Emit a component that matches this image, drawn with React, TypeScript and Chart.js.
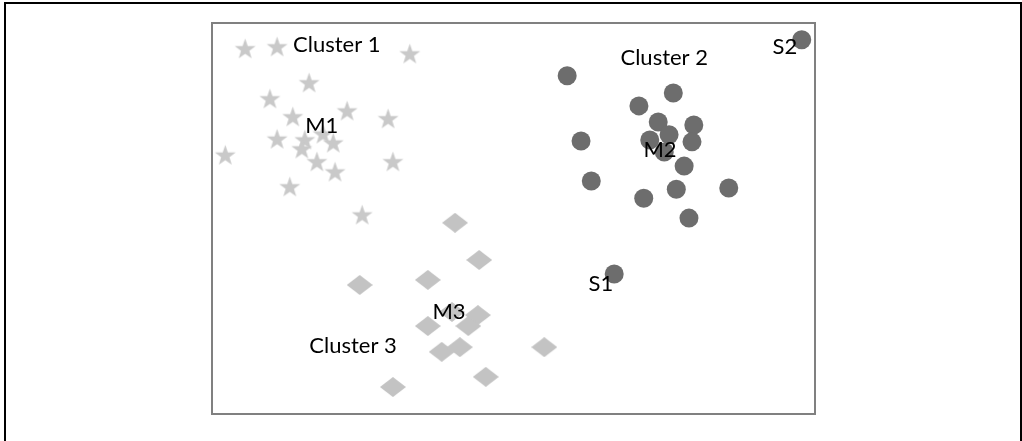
import React, { useEffect, useRef } from "react";
import { Chart, registerables } from "chart.js";

Chart.register(...registerables);

// Cluster 1 (stars)
const cluster1X = [5.5, 10.8, 32.8, 16.1, 9.6, 13.4, 22.4, 29.2, 10.8, 2.2, 15.4, 14.9, 20.1, 18.4, 17.4, 20.4, 30.0, 12.9, 24.9];
const cluster1Y = [93.4, 93.9, 92.1, 84.7, 80.6, 76.0, 77.5, 75.5, 70.3, 66.2, 70.1, 67.8, 69.3, 71.6, 64.5, 61.9, 64.5, 58.1, 50.9];

// Cluster 2 (circles), incl. S2 (first) and S1 (last)
const cluster2X = [97.8, 58.9, 76.5, 70.8, 74.0, 79.9, 75.8, 61.2, 72.6, 79.6, 75.0, 78.3, 62.9, 77.0, 85.7, 71.6, 79.1, 66.7];
const cluster2Y = [95.7, 86.5, 82.1, 78.8, 74.7, 73.9, 71.4, 69.8, 70.1, 69.6, 67.0, 63.4, 59.6, 57.5, 57.8, 55.2, 50.1, 35.8];

// Cluster 3 (diamonds)
const cluster3X = [40.3, 44.3, 35.8, 24.5, 44.1, 42.5, 35.8, 38.1, 41.1, 55.1, 45.4, 30.0, 39.8];
const cluster3Y = [48.9, 39.4, 34.3, 33.0, 25.3, 22.5, 22.5, 15.9, 17.1, 17.1, 9.5, 6.9, 26.1];

// Text annotations
const labelTexts = ["Cluster 1", "Cluster 2", "Cluster 3", "M1", "M2", "M3", "S1", "S2"];
const labelX = [20.7, 75.0, 23.4, 18.2, 74.3, 39.3, 64.5, 95.0];
const labelY = [94.4, 91.1, 17.4, 73.7, 67.5, 26.1, 33.3, 93.9];

function makeStar(color: string) {
  const c = document.createElement("canvas");
  c.width = 23;
  c.height = 23;
  const ctx = c.getContext("2d")!;
  const cx = 11.5, cy = 12.2, R = 11, r = 4.4;
  ctx.beginPath();
  for (let i = 0; i < 10; i++) {
    const a = -Math.PI / 2 + (i * Math.PI) / 5;
    const rad = i % 2 === 0 ? R : r;
    const px = cx + rad * Math.cos(a);
    const py = cy + rad * Math.sin(a);
    if (i === 0) ctx.moveTo(px, py);
    else ctx.lineTo(px, py);
  }
  ctx.closePath();
  ctx.fillStyle = color;
  ctx.fill();
  return c;
}

function makeDiamond(color: string) {
  const c = document.createElement("canvas");
  c.width = 26;
  c.height = 20;
  const ctx = c.getContext("2d")!;
  ctx.beginPath();
  ctx.moveTo(13, 0);
  ctx.lineTo(26, 10);
  ctx.lineTo(13, 20);
  ctx.lineTo(0, 10);
  ctx.closePath();
  ctx.fillStyle = color;
  ctx.fill();
  return c;
}

export default function App() {
  const ref = useRef<HTMLCanvasElement>(null);

  useEffect(() => {
    document.body.style.margin = "0";
    const canvas = ref.current!;
    const star = makeStar("#c9c9c9");
    const diamond = makeDiamond("#c3c3c3");

    const toPts = (xs: number[], ys: number[]) => xs.map((x, i) => ({ x, y: ys[i] }));

    const overlay = {
      id: "overlay",
      beforeDatasetsDraw(chart: any) {
        const { ctx, chartArea } = chart;
        ctx.save();
        ctx.strokeStyle = "#808080";
        ctx.lineWidth = 2;
        ctx.strokeRect(chartArea.left, chartArea.top, chartArea.right - chartArea.left, chartArea.bottom - chartArea.top);
        ctx.restore();
      },
      afterDatasetsDraw(chart: any) {
        const { ctx, scales } = chart;
        ctx.save();
        ctx.font = "22px Lato, 'Open Sans', sans-serif";
        ctx.fillStyle = "#000000";
        ctx.textAlign = "center";
        ctx.textBaseline = "middle";
        labelTexts.forEach((t, i) => {
          ctx.fillText(t, scales.x.getPixelForValue(labelX[i]), scales.y.getPixelForValue(labelY[i]));
        });
        ctx.restore();
      },
    };

    const chart = new Chart(canvas, {
      type: "scatter",
      data: {
        datasets: [
          {
            label: "Cluster 1",
            data: toPts(cluster1X, cluster1Y),
            pointStyle: star as any,
            pointRadius: 11,
          },
          {
            label: "Cluster 3",
            data: toPts(cluster3X, cluster3Y),
            pointStyle: diamond as any,
            pointRadius: 12,
          },
          {
            label: "Cluster 2",
            data: toPts(cluster2X, cluster2Y),
            pointStyle: "circle",
            pointRadius: 9.5,
            backgroundColor: "#6d6d6d",
            borderColor: "#6d6d6d",
            borderWidth: 0,
          },
        ],
      },
      options: {
        animation: false,
        responsive: false,
        maintainAspectRatio: false,
        layout: { padding: { left: 212, right: 207, top: 23, bottom: 27 } },
        plugins: { legend: { display: false }, tooltip: { enabled: false } },
        scales: {
          x: { type: "linear", min: 0, max: 100, display: false },
          y: { type: "linear", min: 0, max: 100, display: false },
        },
      },
      plugins: [overlay],
    });
    return () => chart.destroy();
  }, []);

  return (
    <div style={{ position: "relative", width: 1022, height: 441, background: "#fff" }}>
      <canvas ref={ref} width={1022} height={441} style={{ position: "absolute", left: 0, top: 0 }} />
      <div
        style={{
          position: "absolute",
          left: 4,
          top: 2,
          width: 1014,
          height: 445,
          borderTop: "2px solid #000",
          borderLeft: "2px solid #000",
          borderRight: "2px solid #000",
          pointerEvents: "none",
        }}
      />
    </div>
  );
}
